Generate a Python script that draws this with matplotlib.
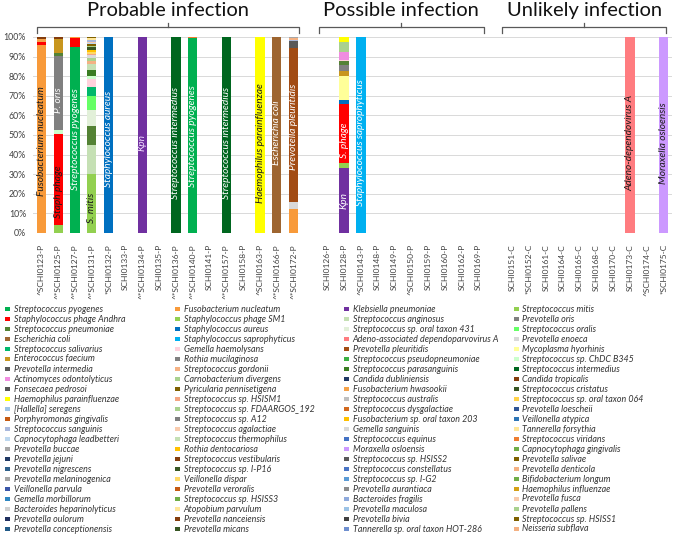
import matplotlib
matplotlib.use('Agg')
import matplotlib.pyplot as plt
from matplotlib.patches import Rectangle
from matplotlib.transforms import blended_transform_factory

plt.rcParams['font.family'] = ['Lato', 'DejaVu Sans']

# ---- samples per group ----
probable = ['^SCHI0123-P', '^*SCHI0125-P', '^*SCHI0127-P', '^*SCHI0131-P', '*SCHI0132-P',
            'SCHI0133-P', '^*SCHI0134-P', 'SCHI0135-P', '^*SCHI0136-P', '^*SCHI0140-P',
            'SCHI0141-P', '^*SCHI0157-P', 'SCHI0158-P', '^SCHI0163-P', '^*SCHI0166-P',
            '^*SCHI0172-P']
possible = ['SCHI0126-P', 'SCHI0128-P', '^SCHI0143-P', 'SCHI0148-P', 'SCHI0149-P',
            '^SCHI0150-P', 'SCHI0159-P', 'SCHI0160-P', 'SCHI0162-P', 'SCHI0169-P']
unlikely = ['SCHI0151-C', '*SCHI0152-C', 'SCHI0161-C', 'SCHI0164-C', 'SCHI0165-C',
            'SCHI0168-C', 'SCHI0170-C', 'SCHI0173-C', '^SCHI0174-C', '*SCHI0175-C']
group_titles = ['Probable infection', 'Possible infection', 'Unlikely infection']

# ---- legend species (column order) and colours ----
species = [
    'Streptococcus pyogenes', 'Staphylococcus phage Andhra', 'Streptococcus pneumoniae',
    'Escherichia coli', 'Streptococcus salivarius', 'Enterococcus faecium',
    'Prevotella intermedia', 'Actinomyces odontolyticus', 'Fonsecaea pedrosoi',
    'Haemophilus parainfluenzae', '[Hallella] seregens', 'Porphyromonas gingivalis',
    'Streptococcus sanguinis', 'Capnocytophaga leadbetteri', 'Prevotella buccae',
    'Prevotella jejuni', 'Prevotella nigrescens', 'Prevotella melaninogenica',
    'Veillonella parvula', 'Gemella morbillorum', 'Bacteroides heparinolyticus',
    'Prevotella oulorum', 'Prevotella conceptionensis',

    'Fusobacterium nucleatum', 'Staphylococcus phage SM1', 'Staphylococcus aureus',
    'Staphylococcus saprophyticus', 'Gemella haemolysans', 'Rothia mucilaginosa',
    'Streptococcus gordonii', 'Carnobacterium divergens', 'Pyricularia pennisetigena',
    'Streptococcus sp. HSISM1', 'Streptococcus sp. FDAARGOS_192', 'Streptococcus sp. A12',
    'Streptococcus agalactiae', 'Streptococcus thermophilus', 'Rothia dentocariosa',
    'Streptococcus vestibularis', 'Streptococcus sp. I-P16', 'Veillonella dispar',
    'Prevotella veroralis', 'Streptococcus sp. HSISS3', 'Atopobium parvulum',
    'Prevotella nanceiensis', 'Prevotella micans',

    'Klebsiella pneumoniae', 'Streptococcus anginosus', 'Streptococcus sp. oral taxon 431',
    'Adeno-associated dependoparvovirus A', 'Prevotella pleuritidis',
    'Streptococcus pseudopneumoniae', 'Streptococcus parasanguinis', 'Candida dubliniensis',
    'Fusobacterium hwasookii', 'Streptococcus australis', 'Streptococcus dysgalactiae',
    'Fusobacterium sp. oral taxon 203', 'Gemella sanguinis', 'Streptococcus equinus',
    'Moraxella osloensis', 'Streptococcus sp. HSISS2', 'Streptococcus constellatus',
    'Streptococcus sp. I-G2', 'Prevotella aurantiaca', 'Bacteroides fragilis',
    'Prevotella maculosa', 'Prevotella bivia', 'Tannerella sp. oral taxon HOT-286',

    'Streptococcus mitis', 'Prevotella oris', 'Streptococcus oralis', 'Prevotella enoeca',
    'Mycoplasma hyorhinis', 'Streptococcus sp. ChDC B345', 'Streptococcus intermedius',
    'Candida tropicalis', 'Streptococcus cristatus', 'Streptococcus sp. oral taxon 064',
    'Prevotella loescheii', 'Veillonella atypica', 'Tannerella forsythia',
    'Streptococcus viridans', 'Capnocytophaga gingivalis', 'Prevotella salivae',
    'Prevotella denticola', 'Bifidobacterium longum', 'Haemophilus influenzae',
    'Prevotella fusca', 'Prevotella pallens', 'Streptococcus sp. HSISS1',
    'Neisseria subflava',
]
species_colors = [
    '#00b050', '#ff0000', '#548235', '#9e6530', '#00b86b', '#c8961e', '#595959', '#f08ce0',
    '#555555', '#ffff00', '#9dc3e6', '#c55a11', '#a9b8dc', '#bdd7ee', '#a6a6a6', '#1f3864',
    '#2e5f8a', '#a5a5a5', '#3a56a8', '#2e86c1', '#d0d0d0', '#1f2f5f', '#215a87',

    '#f89a3a', '#92d050', '#0070c0', '#00b0f0', '#ffd1dc', '#808080', '#f4b183', '#a9d18e',
    '#7f6000', '#f4a582', '#a9d18e', '#7f7f7f', '#f8cbad', '#c5e0b4', '#ffc000', '#843c0c',
    '#385723', '#ffd966', '#c55a11', '#70ad47', '#ffe699', '#843c0c', '#375623',

    '#7030a0', '#c5e0b4', '#e2f0d9', '#ff7c80', '#a24c14', '#3cb043', '#3a7d22', '#203864',
    '#f4a24a', '#bfbfbf', '#d2691e', '#ffc000', '#d9d9d9', '#4472c4', '#cc99ff', '#595959',
    '#4a74c4', '#5b9bd5', '#8c8c8c', '#8faadc', '#9dc3e6', '#404040', '#6f8fcf',

    '#92d050', '#808080', '#66ff66', '#d9d9d9', '#ffff99', '#ccffcc', '#00661f', '#843c0c',
    '#375623', '#ffd24a', '#2f5597', '#2e75b6', '#ffe699', '#ed7d31', '#70ad47', '#7f6000',
    '#f4b183', '#70ad47', '#d4a017', '#f8cbad', '#a9d18e', '#7f6000', '#f4b183',
]

# ---- relative abundance (%) per sample, bottom to top ----
comp_0123 = [('Fusobacterium nucleatum', 95.7), ('Staphylococcus phage Andhra', 2.0),
             ('Fusobacterium hwasookii', 1.4), ('Streptococcus vestibularis', 0.9)]
comp_0125 = [('Staphylococcus phage SM1', 4.0), ('Staphylococcus phage Andhra', 46.7),
             ('Streptococcus sp. ChDC B345', 1.7), ('Prevotella oris', 37.9),
             ('Streptococcus pneumoniae', 1.7), ('Enterococcus faecium', 7.1),
             ('Candida tropicalis', 0.9)]
comp_0127 = [('Streptococcus pyogenes', 94.9), ('Staphylococcus phage Andhra', 4.4),
             ('Fusobacterium nucleatum', 0.7)]
comp_0131 = [('Streptococcus mitis', 30.0), ('Streptococcus anginosus', 15.0),
             ('Streptococcus pneumoniae', 9.5), ('Streptococcus sp. oral taxon 431', 8.5),
             ('Streptococcus oralis', 7.0), ('Streptococcus salivarius', 4.5),
             ('Gemella haemolysans', 4.0), ('Streptococcus sp. ChDC B345', 1.5),
             ('Streptococcus parasanguinis', 3.0), ('Streptococcus thermophilus', 3.0),
             ('Streptococcus gordonii', 2.0), ('Streptococcus sp. FDAARGOS_192', 1.5),
             ('Prevotella enoeca', 1.1), ('Streptococcus sp. HSISM1', 0.9),
             ('Veillonella dispar', 0.8), ('Rothia dentocariosa', 0.9),
             ('Streptococcus cristatus', 0.8), ('Streptococcus sp. I-P16', 0.7),
             ('Prevotella pallens', 0.9), ('Pyricularia pennisetigena', 0.7),
             ('Capnocytophaga leadbetteri', 0.7), ('Prevotella fusca', 0.7),
             ('Streptococcus sanguinis', 0.8), ('Atopobium parvulum', 0.8),
             ('Prevotella salivae', 0.7)]
comp_0132 = [('Staphylococcus aureus', 100.0)]
comp_0134 = [('Klebsiella pneumoniae', 100.0)]
comp_0136 = [('Streptococcus intermedius', 100.0)]
comp_0140 = [('Streptococcus pyogenes', 99.4), ('Streptococcus viridans', 0.6)]
comp_0157 = [('Streptococcus intermedius', 100.0)]
comp_0163 = [('Haemophilus parainfluenzae', 100.0)]
comp_0166 = [('Escherichia coli', 100.0)]
comp_0172 = [('Fusobacterium nucleatum', 12.0), ('Gemella sanguinis', 4.0),
             ('Prevotella pleuritidis', 78.6), ('Prevotella intermedia', 3.2),
             ('Streptococcus sanguinis', 0.8), ('Prevotella denticola', 0.7),
             ('Prevotella buccae', 0.7)]
comp_0128 = [('Klebsiella pneumoniae', 33.0), ('Streptococcus mitis', 2.5),
             ('Staphylococcus phage Andhra', 30.2), ('Staphylococcus aureus', 2.3),
             ('Mycoplasma hyorhinis', 12.0), ('Enterococcus faecium', 2.5),
             ('Rothia mucilaginosa', 3.0), ('Streptococcus pneumoniae', 2.2),
             ('Gemella haemolysans', 0.5), ('Actinomyces odontolyticus', 4.0),
             ('Carnobacterium divergens', 5.3), ('Haemophilus parainfluenzae', 2.5)]
comp_0143 = [('Staphylococcus saprophyticus', 100.0)]
comp_0173 = [('Adeno-associated dependoparvovirus A', 100.0)]
comp_0175 = [('Moraxella osloensis', 100.0)]

compositions = {
    '^SCHI0123-P': comp_0123, '^*SCHI0125-P': comp_0125, '^*SCHI0127-P': comp_0127,
    '^*SCHI0131-P': comp_0131, '*SCHI0132-P': comp_0132, '^*SCHI0134-P': comp_0134,
    '^*SCHI0136-P': comp_0136, '^*SCHI0140-P': comp_0140, '^*SCHI0157-P': comp_0157,
    '^SCHI0163-P': comp_0163, '^*SCHI0166-P': comp_0166, '^*SCHI0172-P': comp_0172,
    'SCHI0128-P': comp_0128, '^SCHI0143-P': comp_0143, 'SCHI0173-C': comp_0173,
    '*SCHI0175-C': comp_0175,
}

# ---- labels written inside the bars ----
label_samples = ['^SCHI0123-P', '^*SCHI0125-P', '^*SCHI0125-P', '^*SCHI0127-P', '^*SCHI0131-P',
                 '*SCHI0132-P', '^*SCHI0134-P', '^*SCHI0136-P', '^*SCHI0140-P', '^*SCHI0157-P',
                 '^SCHI0163-P', '^*SCHI0166-P', '^*SCHI0172-P', 'SCHI0128-P', 'SCHI0128-P',
                 '^SCHI0143-P', 'SCHI0173-C', '*SCHI0175-C']
label_texts = ['Fusobacterium nucleatum', 'Staph phage', 'P. oris', 'Streptococcus pyogenes',
               'S. mitis', 'Staphylococcus aureus', 'Kpn', 'Streptococcus intermedius',
               'Streptococcus pyogenes', 'Streptococcus intermedius', 'Haemophilus parainfluenzae',
               'Escherichia coli', 'Prevotella pleuritidis', 'Kpn', 'S. phage',
               'Staphylococcus saprophyticus', 'Adeno-dependovirus A', 'Moraxella osloensis']
label_y = [47, 21, 68, 48, 12.7, 48, 46, 46, 49.5, 46, 46, 51, 54, 16.5, 47.5, 46, 46, 46]
label_colors = ['#1a1a1a', '#1a1a1a', 'white', 'white', '#1a1a1a', 'white', '#f0dcff', 'white',
                'white', 'white', '#1a1a1a', 'white', 'white', 'white', 'white', 'white',
                '#1a1a1a', '#1a1a1a']

# ---- layout ----
groups = [probable, possible, unlikely]
positions, names, spans = [], [], []
pos = 0
for g in groups:
    start = pos
    for s in g:
        positions.append(pos)
        names.append(s)
        pos += 1
    spans.append((start, pos - 1))
    pos += 1  # one empty slot between groups
xpos = dict(zip(names, positions))
color_of = dict(zip(species, species_colors))

W, H = 680, 540
fig = plt.figure(figsize=(6.8, 5.4), dpi=100)
ax = fig.add_axes([33 / W, 1 - 233 / H, 639 / W, 196 / H])

for s in names:
    bottom = 0
    for sp, val in compositions.get(s, []):
        ax.bar(xpos[s], val, bottom=bottom, width=0.55, color=color_of[sp],
               linewidth=0, zorder=3)
        bottom += val

for s, txt, y, c in zip(label_samples, label_texts, label_y, label_colors):
    ax.text(xpos[s], y, txt, rotation=90, ha='center', va='center', fontsize=7.3,
            style='italic', color=c, zorder=4)

ax.set_xlim(-0.5, pos - 1.5)
ax.set_ylim(0, 100)
ax.set_yticks(range(0, 101, 10))
ax.set_yticklabels([f'{v}%' for v in range(0, 101, 10)])
ax.set_xticks(positions)
ax.set_xticklabels(names, rotation=90)
ax.tick_params(axis='y', length=0, pad=5, labelsize=6.3, labelcolor='#404040')
ax.tick_params(axis='x', length=0, pad=8, labelsize=6, labelcolor='#404040')
ax.grid(axis='y', color='#d9d9d9', linewidth=0.7, zorder=0)
for sp in ax.spines.values():
    sp.set_visible(False)

# ---- group brackets and titles ----
trans = blended_transform_factory(ax.transData, ax.transAxes)
pads = [(-0.25, 0.3), (-0.5, 0.3), (-0.6, 0.15)]
for (a, b), (pl, pr), title in zip(spans, pads, group_titles):
    x0, x1 = a + pl, b + pr
    xm = (x0 + x1) / 2
    ax.plot([x0, x0, x1, x1], [1.02, 1.051, 1.051, 1.02], color='#595959', lw=0.9,
            transform=trans, clip_on=False)
    ax.plot([xm, xm], [1.051, 1.071], color='#595959', lw=0.9, transform=trans, clip_on=False)
    ax.text(xm, 1.135, title, ha='center', va='center', fontsize=14.5, color='#111111',
            transform=trans)

# ---- legend (4 columns, column-major) ----
col_x = [5, 175, 344, 514]
rows = 23
for i, (sp, c) in enumerate(zip(species, species_colors)):
    col, row = divmod(i, rows)
    y = 309 + row * 10
    fig.add_artist(Rectangle((col_x[col] / W, 1 - (y + 2.3) / H), 4.6 / W, 4.6 / H,
                             facecolor=c, edgecolor='none', transform=fig.transFigure))
    fig.text((col_x[col] + 8.5) / W, 1 - y / H, sp, ha='left', va='center', fontsize=6.4,
             style='italic', color='#333333')

fig.savefig('out.png', dpi=100)
